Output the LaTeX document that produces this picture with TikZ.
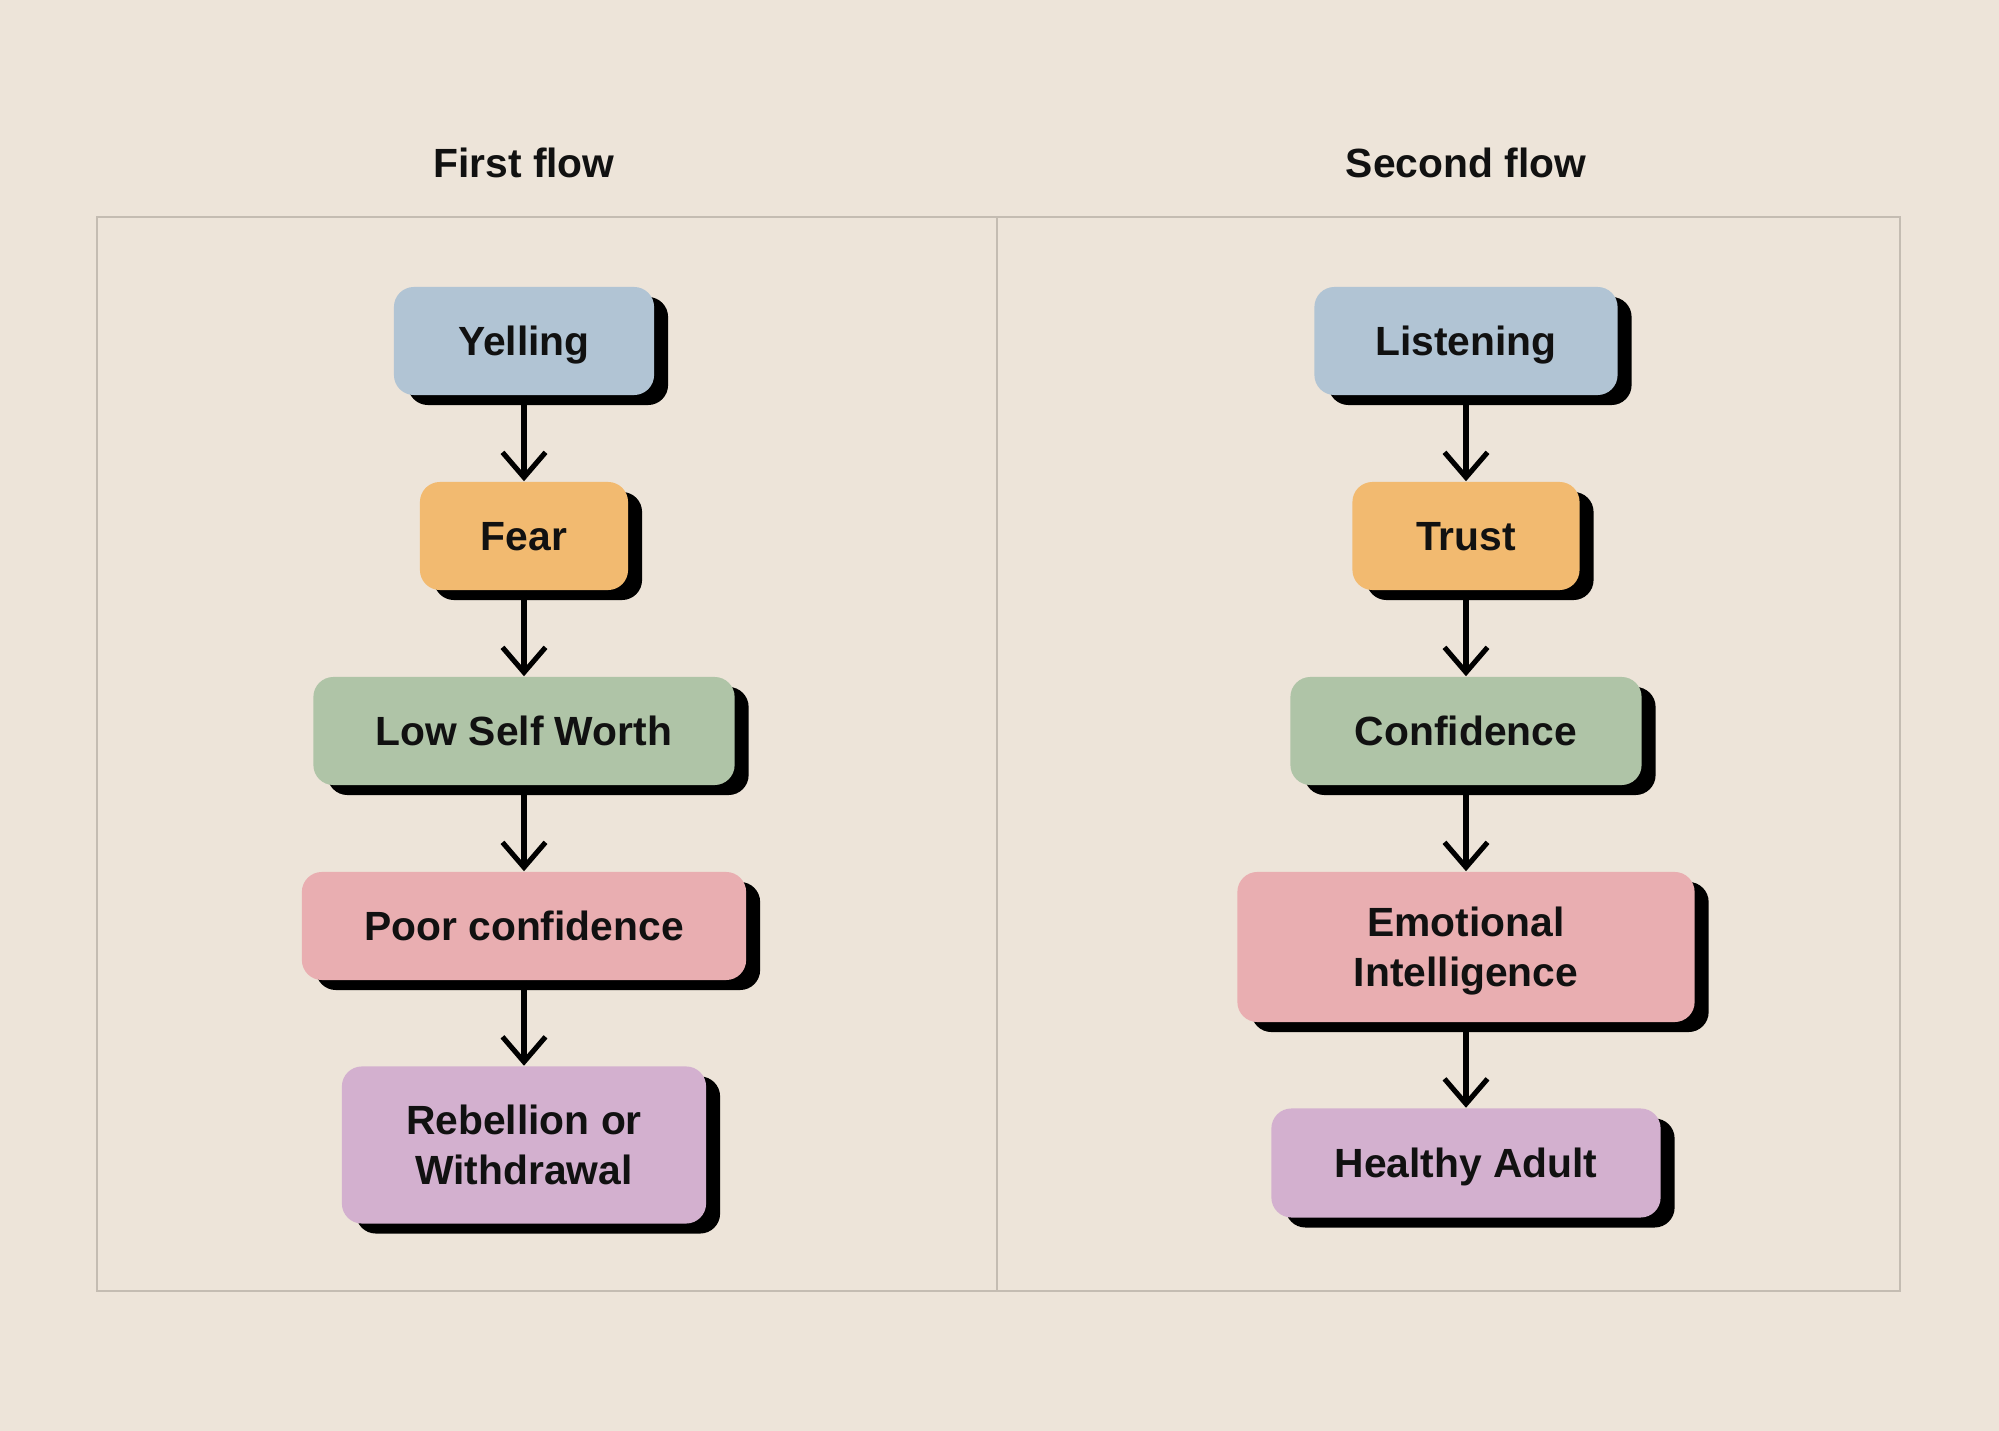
\documentclass[tikz,border=0pt]{standalone}
\usepackage{fontspec}
\setmainfont{Liberation Sans}
\usepackage{tikz}
\usetikzlibrary{arrows.meta,shadows}
\definecolor{paper}{HTML}{EDE4D9}
\definecolor{frameline}{HTML}{C4BCB2}
\definecolor{ink}{HTML}{111111}
\definecolor{stepblue}{HTML}{B1C4D4}
\definecolor{steporange}{HTML}{F2BA70}
\definecolor{stepgreen}{HTML}{AFC4A7}
\definecolor{steppink}{HTML}{E9AEB1}
\definecolor{steppurple}{HTML}{D3B0CF}
\tikzset{
	step box/.style={rounded corners=0.2cm, inner sep=0pt, align=center,
		text=ink, text depth=0pt, font=\fontsize{11.6}{14.2}\selectfont\bfseries,
		general shadow={fill=black, shadow xshift=0.14cm, shadow yshift=-0.1cm}},
	flow title/.style={text=ink, font=\fontsize{11.6}{14}\selectfont\bfseries},
	flow arrow/.style={draw=black, line width=1.45pt,
		-{Straight Barb[length=0.25cm, width=0.43cm, line width=1.45pt]}},
	panel/.style={draw=frameline, line width=0.6pt}
}
\def\FlowStep#1#2#3#4#5#6#7{%
	\node[step box, fill=#2, minimum width=#5, minimum height=#6] (#1) at (#3,#4) {#7};
}

\begin{document}
\begin{tikzpicture}[x=0.01cm, y=-0.01cm]
\fill[paper] (0,0) rectangle (1999,1431);
\useasboundingbox (0,0) rectangle (1999,1431);
% panels
\draw[panel] (97,217) rectangle (1900,1291);
\draw[panel] (997,217) -- (997,1291);
\node[flow title] (FirstTitle) at (524,163) {First flow};
\node[flow title] (SecondTitle) at (1466,163) {Second flow};

% first flow
\FlowStep{yelling}{stepblue}{524}{341}{2.60cm}{1.08cm}{Yelling}
\FlowStep{fear}{steporange}{524}{536}{2.08cm}{1.08cm}{Fear}
\FlowStep{lowworth}{stepgreen}{524}{731}{4.21cm}{1.08cm}{Low Self Worth}
\FlowStep{poorconf}{steppink}{524}{926}{4.44cm}{1.08cm}{Poor confidence}
\FlowStep{rebellion}{steppurple}{524}{1145}{3.64cm}{1.57cm}{Rebellion or\\Withdrawal}

% second flow
\FlowStep{listening}{stepblue}{1466}{341}{3.03cm}{1.08cm}{Listening}
\FlowStep{trust}{steporange}{1466}{536}{2.27cm}{1.08cm}{Trust}
\FlowStep{confidence}{stepgreen}{1466}{731}{3.51cm}{1.08cm}{Confidence}
\FlowStep{emotional}{steppink}{1466}{947}{4.57cm}{1.50cm}{Emotional\\Intelligence}
\FlowStep{healthy}{steppurple}{1466}{1163}{3.89cm}{1.09cm}{Healthy Adult}

\foreach \a/\b in {yelling/fear, fear/lowworth, lowworth/poorconf, poorconf/rebellion,
	listening/trust, trust/confidence, confidence/emotional, emotional/healthy}
	\draw[flow arrow] (\a.south) -- (\b.north);
\end{tikzpicture}
\end{document}
